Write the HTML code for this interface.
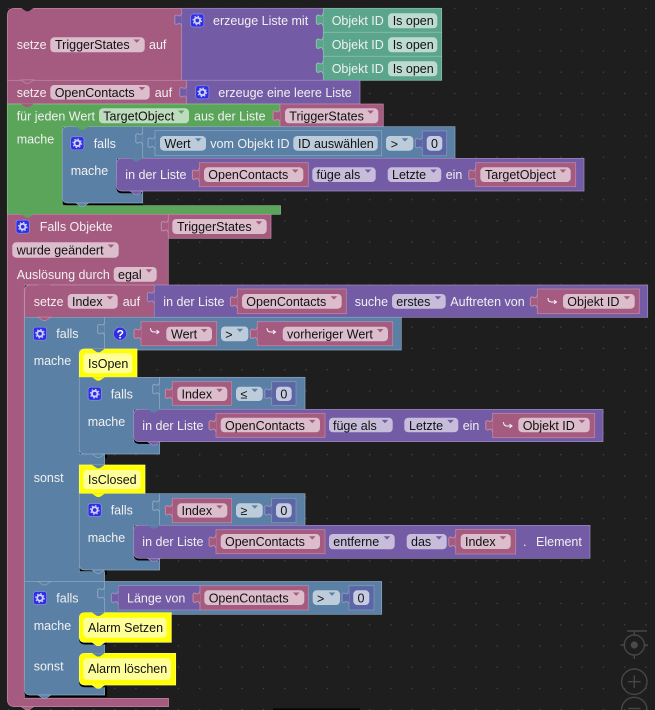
<!DOCTYPE html>
<html><head><meta charset="utf-8"><style>
html,body{margin:0;padding:0;background:#1e1e1e}
svg{display:block;filter:blur(.3px)}
text{font-family:"Liberation Sans",sans-serif;font-size:12.5px;fill:#f0f0f0;stroke:none}
text.d{fill:#111}
.p{fill:#a55b80;stroke:#c08ca6;stroke-width:.7}
.v{fill:#745ba5;stroke:#9f8cc0;stroke-width:.7}
.t{fill:#5ba58c;stroke:#8cc0ae;stroke-width:.7}
.g{fill:#5ba55b;stroke:#8cc08c;stroke-width:.7}
.b{fill:#5b80a5;stroke:#8ca6c0;stroke-width:.7}
.m{fill:#5b67a5;stroke:#8c95c0;stroke-width:.7}
.y{fill:#ff0;stroke:#ffff66;stroke-width:.7}
.s{fill:#000}
.fp{fill:#dbbdcc}.fv{fill:#c7bddb}.ft{fill:#bddbd1}.fg{fill:#bddbbd}.fb{fill:#bdccdb}.fm{fill:#c6cbe2}.fy{fill:#ffff99}
.ap{fill:#a55b80}.av{fill:#745ba5}.ab{fill:#5b80a5}.ag{fill:#5ba55b}
.ctl{fill:none;stroke:#464646;stroke-width:1.4}
</style></head><body>
<svg xmlns="http://www.w3.org/2000/svg" width="655" height="710" viewBox="0 0 655 710">
<defs>
<pattern id="dots" x="8.45" y="8.45" width="21.25" height="21.25" patternUnits="userSpaceOnUse"><rect x="-.6" y="-.6" width="1.2" height="1.2" fill="#4a4a4a"/><rect x="20.65" y="-.6" width="1.2" height="1.2" fill="#4a4a4a"/><rect x="-.6" y="20.65" width="1.2" height="1.2" fill="#4a4a4a"/><rect x="20.65" y="20.65" width="1.2" height="1.2" fill="#4a4a4a"/></pattern>
<path id="tab" stroke-width="1" d="M0 0C-.8 3-2 3.4-4 2.4C-6.6 1.2-7.4 3-6.8 6.7C-7.4 10.4-6.6 12.2-4 11C-2 10-.8 10.4 0 13.4"/>
<path id="n" d="M0 0l5 3.4h2.8l5-3.4z"/>
<polygon id="a" points="0,0 6.5,0 3.25,3.4"/>
<g id="gear"><rect x="-6.6" y="-6.5" width="13.2" height="13" rx="2.5" fill="#2f2fe0" stroke="#8c8cf0" stroke-width=".7"/><circle r="2.8" fill="none" stroke="#cfd3ff" stroke-width="1.9"/><circle r="4.3" fill="none" stroke="#cfd3ff" stroke-width="1.1" stroke-dasharray="1.5 1.9"/></g>
<path id="hook" d="M0 0q0 4 3.5 4H8M6 2.2L8.5 4L6 5.8" fill="none" stroke="#f4f4f4" stroke-width="1"/>
</defs>
<rect width="655" height="710" fill="#1e1e1e"/>
<rect width="655" height="710" fill="url(#dots)"/>

<!-- controls -->
<g class="ctl">
<path d="M627 631h20"/>
<circle cx="634.3" cy="645" r="10"/><path d="M634.3 631v4M634.3 655v4M620.5 645h4M644 645h4"/>
<circle cx="634.3" cy="681.7" r="12.7"/><path d="M628 681.7h12.6M634.3 675.4v12.6"/>
<circle cx="634.3" cy="710" r="12.7"/><path d="M628 708.5h12.6"/>
</g>
<circle cx="634.3" cy="645" r="3.6" fill="#4a4a4a"/>
<rect x="273" y="708.4" width="87" height="1.6" fill="#050505"/>

<!-- setze TriggerStates -->
<path class="p" d="M15 8.3H181.7V80.3H7.3V16q0-7.7 7.7-7.7z"/>
<use href="#n" x="21" y="7.8" fill="#1e1e1e"/>
<rect class="v" x="181.7" y="8.3" width="141.6" height="72"/>
<use href="#tab" x="181.7" y="13" class="v"/>
<rect class="t" x="323.3" y="8.3" width="118.4" height="24"/>
<rect class="t" x="323.3" y="32.3" width="118.4" height="24"/>
<rect class="t" x="323.3" y="56.3" width="118.4" height="24"/>
<use href="#tab" x="323.3" y="13" class="t"/><use href="#tab" x="323.3" y="37" class="t"/><use href="#tab" x="323.3" y="61" class="t"/>
<text x="16.7" y="49">setze</text>
<rect class="fp" x="50.3" y="37.3" width="94.4" height="15" rx="4"/><text class="d" x="55" y="49">TriggerStates</text><use href="#a" x="133.5" y="39.5" class="ap"/>
<text x="149" y="49">auf</text>
<use href="#gear" x="197.3" y="20.5"/>
<text x="213" y="25">erzeuge Liste mit</text>
<text x="331.7" y="25">Objekt ID</text><rect class="ft" x="388" y="13.3" width="49.3" height="15" rx="4"/><text class="d" x="392.7" y="25">Is open</text>
<text x="331.7" y="49">Objekt ID</text><rect class="ft" x="388" y="37.3" width="49.3" height="15" rx="4"/><text class="d" x="392.7" y="49">Is open</text>
<text x="331.7" y="73">Objekt ID</text><rect class="ft" x="388" y="61.3" width="49.3" height="15" rx="4"/><text class="d" x="392.7" y="73">Is open</text>

<!-- setze OpenContacts -->
<rect class="p" x="7.3" y="80.3" width="179.4" height="23.7"/>
<use href="#n" x="21" y="79.9" class="p"/>
<rect class="v" x="186.7" y="80.3" width="173.3" height="23.7"/>
<use href="#tab" x="186.7" y="85.5" class="v"/>
<text x="16.7" y="96.8">setze</text>
<rect class="fp" x="50.3" y="85" width="99.4" height="14.6" rx="4"/><text class="d" x="54.7" y="96.8">OpenContacts</text><use href="#a" x="138.7" y="87" class="ap"/>
<text x="154.7" y="96.8">auf</text>
<use href="#gear" x="202.3" y="92.3"/>
<text x="218.3" y="96.8">erzeuge eine leere Liste</text>

<!-- für jeden -->
<path class="g" d="M7.3 104H280V127H62.3V205.7H280.5V214.3H7.3z"/>
<use href="#n" x="21" y="103.8" class="p" style="stroke:none"/>
<rect class="p" x="280" y="104" width="103.3" height="23.3"/>
<use href="#tab" x="280" y="109" class="p"/>
<text x="16.7" y="120.3">für jeden Wert</text>
<rect class="fg" x="99" y="108.3" width="90" height="15" rx="4"/><text class="d" x="103.3" y="120.3">TargetObject</text><use href="#a" x="178" y="110.5" class="ag"/>
<text x="194" y="120.3">aus der Liste</text>
<rect class="fp" x="285" y="108.3" width="93.3" height="15" rx="4"/><text class="d" x="289.3" y="120.3">TriggerStates</text><use href="#a" x="367.3" y="110.5" class="ap"/>
<text x="16.7" y="143.4">mache</text>

<!-- falls 1 -->
<path class="s" d="M68 205.2q-5.7 0-5.7-5.7V195H142.7V205.2z"/>
<path class="b" d="M68 126.7H142.7V158.3H116.5V191H142.7V203H68q-5.7 0-5.7-5.7V132.4q0-5.7 5.7-5.7z"/>
<use href="#n" x="75.8" y="126.5" class="g" style="stroke:none"/>
<use href="#n" x="75.8" y="203" class="b"/>
<rect class="b" x="142.7" y="126.7" width="312.3" height="31.6"/>
<use href="#tab" x="142.7" y="131.7" class="b"/>
<rect class="b" x="155" y="130.7" width="226.7" height="25"/>
<use href="#tab" x="155" y="136" class="b"/>
<use href="#gear" x="77.3" y="143.3"/>
<text x="93.7" y="147.8">falls</text>
<text x="70.7" y="175.2">mache</text>
<rect class="fb" x="160" y="136" width="46" height="14.7" rx="4"/><text class="d" x="164.5" y="147.8">Wert</text><use href="#a" x="195" y="138.2" class="ab"/>
<text x="210.3" y="147.8">vom Objekt ID</text>
<rect class="fb" x="293.3" y="136" width="84.4" height="14.7" rx="4"/><text class="d" x="298" y="147.8">ID auswählen</text>
<rect class="fb" x="386" y="136" width="27.3" height="14.7" rx="4"/><text class="d" x="390.7" y="148.5">&gt;</text><use href="#a" x="401.7" y="138.2" class="ab"/>
<rect class="m" x="422.3" y="131" width="24.4" height="24.7"/><use href="#tab" x="422.3" y="136.5" class="m"/>
<rect class="fm" x="426.7" y="136" width="15.6" height="14.7" rx="4"/><text class="d" x="431" y="147.8">0</text>

<!-- in der Liste 1 -->
<path class="s" d="M122 193.2q-5.7 0-5.7-5.7V180H142V193.2z"/>
<path class="v" d="M122.2 158.3H584V191H122.2q-5.7 0-5.7-5.7V164q0-5.7 5.7-5.7z"/>
<use href="#n" x="130" y="158.1" class="b" style="stroke:none"/>
<use href="#n" x="130" y="191" class="v"/>
<text x="125.3" y="179.2">in der Liste</text>
<rect class="p" x="199.3" y="162.7" width="109" height="24"/><use href="#tab" x="199.3" y="168" class="p"/>
<rect class="fp" x="204" y="167.3" width="99.3" height="14.7" rx="4"/><text class="d" x="208.3" y="179.2">OpenContacts</text><use href="#a" x="292" y="169.5" class="ap"/>
<rect class="fv" x="312.3" y="167.3" width="63.4" height="14.7" rx="4"/><text class="d" x="316.5" y="179.2">füge als</text><use href="#a" x="364.7" y="169.5" class="av"/>
<rect class="fv" x="387.7" y="167.3" width="53.6" height="14.7" rx="4"/><text class="d" x="392" y="179.2">Letzte</text><use href="#a" x="430.3" y="169.5" class="av"/>
<text x="445.7" y="179.2">ein</text>
<rect class="p" x="475.7" y="162.7" width="100" height="24"/><use href="#tab" x="475.7" y="168" class="p"/>
<rect class="fp" x="480.3" y="167.3" width="90.4" height="14.7" rx="4"/><text class="d" x="485" y="179.2">TargetObject</text><use href="#a" x="559.7" y="169.5" class="ap"/>

<!-- Falls Objekte -->
<path class="p" d="M7.3 214.3H168.3V285H24.3V698.3H168.5V706.7H15q-7.7 0-7.7-7.7z"/>
<use href="#n" x="21" y="214.1" class="g" style="stroke:none"/>
<use href="#n" x="21" y="706.5" class="p"/>
<rect class="p" x="168.3" y="214.3" width="102.7" height="24"/><use href="#tab" x="168.3" y="219.5" class="p"/>
<use href="#gear" x="22.7" y="226.7"/>
<text x="39.7" y="231">Falls Objekte</text>
<rect class="fp" x="172.3" y="219" width="94.4" height="15" rx="4"/><text class="d" x="177" y="231">TriggerStates</text><use href="#a" x="255.7" y="221.2" class="ap"/>
<rect class="fp" x="12.3" y="242.3" width="106.4" height="15.4" rx="4"/><text class="d" x="16.7" y="254.3">wurde geändert</text><use href="#a" x="107.7" y="244.5" class="ap"/>
<text x="16.7" y="278.8">Auslösung durch</text>
<rect class="fp" x="113.7" y="267" width="43" height="14.7" rx="4"/><text class="d" x="118" y="278.8">egal</text><use href="#a" x="145.7" y="269.2" class="ap"/>

<!-- setze Index -->
<path class="p" d="M30.4 285H154.3V317.3H24.7V291q0-6 5.7-6z"/>
<use href="#n" x="38" y="284.8" class="p" style="stroke:none"/>
<rect class="v" x="154.3" y="285" width="493.4" height="32.3"/><use href="#tab" x="154.3" y="290.3" class="v"/>
<text x="33.7" y="305.8">setze</text>
<rect class="fp" x="67.7" y="294" width="50" height="14.7" rx="4"/><text class="d" x="72" y="305.8">Index</text><use href="#a" x="106.7" y="296.2" class="ap"/>
<text x="122.7" y="305.8">auf</text>
<text x="163.3" y="305.8">in der Liste</text>
<rect class="p" x="237.3" y="289" width="109" height="24.7"/><use href="#tab" x="237.3" y="294.8" class="p"/>
<rect class="fp" x="242" y="294" width="99.7" height="14.7" rx="4"/><text class="d" x="246.3" y="305.8">OpenContacts</text><use href="#a" x="330.7" y="296.2" class="ap"/>
<text x="354.7" y="305.8">suche</text>
<rect class="fv" x="392" y="294" width="53.7" height="14.7" rx="4"/><text class="d" x="396.3" y="305.8">erstes</text><use href="#a" x="434.7" y="296.2" class="av"/>
<text x="450.3" y="305.8">Auftreten von</text>
<rect class="p" x="537.3" y="289" width="102" height="24.7"/><use href="#tab" x="537.3" y="294.8" class="p"/>
<use href="#hook" x="548" y="298"/>
<rect class="fp" x="563" y="294" width="71.7" height="14.7" rx="4"/><text class="d" x="567.3" y="305.8">Objekt ID</text><use href="#a" x="623.7" y="296.2" class="ap"/>

<!-- falls 2 -->
<path class="s" d="M79.3 454H107V458H79.3zM79.3 570H107V574.5H79.3z"/>
<path class="b" d="M24.5 317.3H104.6V350H79.3V454H104.6V465H79.3V571.7H104.6V581.7H24.5z"/>
<use href="#n" x="38" y="317.1" class="p"/>
<use href="#n" x="38" y="581.5" class="b"/>
<rect class="b" x="104.6" y="317.3" width="296.7" height="32.7"/><use href="#tab" x="104.6" y="322.3" class="b"/>
<use href="#gear" x="40" y="333.7"/>
<text x="56.3" y="338.2">falls</text>
<circle cx="120" cy="333.7" r="6.5" fill="#2f2fe0" stroke="#8c8cf0" stroke-width=".6"/><text x="116.6" y="338.4" style="font-weight:bold;font-size:12px;fill:#fff">?</text>
<rect class="p" x="141" y="321.7" width="75.7" height="24"/><use href="#tab" x="141" y="327" class="p"/>
<use href="#hook" x="150.5" y="328"/>
<rect class="fp" x="166.3" y="326.7" width="45.7" height="14.5" rx="4"/><text class="d" x="171" y="338.3">Wert</text><use href="#a" x="201" y="329" class="ap"/>
<rect class="fb" x="221" y="326.5" width="27.3" height="14.7" rx="4"/><text class="d" x="225.3" y="339">&gt;</text><use href="#a" x="236.7" y="328.7" class="ab"/>
<rect class="p" x="257.3" y="321.7" width="135.4" height="24"/><use href="#tab" x="257.3" y="327" class="p"/>
<use href="#hook" x="267" y="328"/>
<rect class="fp" x="282.7" y="326.7" width="105.3" height="14.5" rx="4"/><text class="d" x="287" y="338.3">vorheriger Wert</text><use href="#a" x="377" y="329" class="ap"/>
<text x="33.7" y="365.2">mache</text>

<!-- IsOpen -->
<path class="y" d="M85 349H137V377.3H79.3V355q0-6 5.7-6z"/>
<use href="#n" x="92" y="348.8" class="b" style="stroke:none"/>
<use href="#n" x="92" y="377.2" class="y"/>
<rect class="fy" x="83.3" y="353.3" width="49" height="20" rx="4"/><text class="d" x="88" y="367.8">IsOpen</text>

<!-- inner falls 1 -->
<path class="b" d="M79.3 377.3H159.6V409.3H133.7V441.7H159.6V454H85.3q-6 0-6-6z"/>
<use href="#n" x="92" y="377.2" class="y" style="stroke:none"/>
<use href="#n" x="92" y="454" class="b"/>
<rect class="b" x="159.6" y="377.3" width="145.4" height="32"/><use href="#tab" x="159.6" y="382.3" class="b"/>
<use href="#gear" x="94.7" y="393.7"/>
<text x="110.7" y="398.4">falls</text>
<rect class="p" x="172.3" y="381.7" width="59.4" height="23.6"/><use href="#tab" x="172.3" y="387" class="p"/>
<rect class="fp" x="177.3" y="386.7" width="50" height="14.3" rx="4"/><text class="d" x="181.5" y="398.4">Index</text><use href="#a" x="216.3" y="388.8" class="ap"/>
<rect class="fb" x="236" y="386.7" width="26.7" height="14.3" rx="4"/><text class="d" x="240.5" y="398.6">≤</text><use href="#a" x="251.5" y="388.8" class="ab"/>
<rect class="m" x="271.7" y="381.7" width="24.3" height="23.6"/><use href="#tab" x="271.7" y="387" class="m"/>
<rect class="fm" x="276" y="386.7" width="15.7" height="14.3" rx="4"/><text class="d" x="280.4" y="398.4">0</text>
<text x="87.7" y="425.8">mache</text>
<path class="s" d="M139.5 443.9q-5.8 0-5.8-5.8V432H159V443.9z"/>
<path class="v" d="M139.5 409.3H603V441.7H139.5q-5.8 0-5.8-5.8V415.1q0-5.8 5.8-5.8z"/>
<use href="#n" x="147.5" y="409.1" class="b" style="stroke:none"/>
<use href="#n" x="147.5" y="441.7" class="v"/>
<text x="142.3" y="429.8">in der Liste</text>
<rect class="p" x="216" y="413.3" width="109" height="24"/><use href="#tab" x="216" y="418.6" class="p"/>
<rect class="fp" x="220.7" y="417.7" width="99.3" height="14.6" rx="4"/><text class="d" x="225" y="429.8">OpenContacts</text><use href="#a" x="309" y="419.9" class="ap"/>
<rect class="fv" x="329" y="417.7" width="63.7" height="14.6" rx="4"/><text class="d" x="333" y="429.8">füge als</text><use href="#a" x="381.7" y="419.9" class="av"/>
<rect class="fv" x="404.3" y="417.7" width="54" height="14.6" rx="4"/><text class="d" x="409" y="429.8">Letzte</text><use href="#a" x="447.3" y="419.9" class="av"/>
<text x="462.7" y="429.8">ein</text>
<rect class="p" x="492.7" y="413.3" width="102" height="24.4"/><use href="#tab" x="492.7" y="418.6" class="p"/>
<use href="#hook" x="503.5" y="422"/>
<rect class="fp" x="518.3" y="417.7" width="71.4" height="14.6" rx="4"/><text class="d" x="522.7" y="429.8">Objekt ID</text><use href="#a" x="578.7" y="419.9" class="ap"/>

<text x="33.7" y="481.8">sonst</text>

<!-- IsClosed -->
<rect class="y" x="79.3" y="465" width="65.7" height="28.7"/>
<use href="#n" x="92" y="464.8" class="b" style="stroke:none"/>
<use href="#n" x="92" y="493.6" class="y"/>
<rect class="fy" x="83.3" y="470" width="57.4" height="19.3" rx="4"/><text class="d" x="88" y="484.2">IsClosed</text>

<!-- inner falls 2 -->
<path class="b" d="M79.3 493.7H159.6V525.3H133.7V558.3H159.6V570H85.3q-6 0-6-6z"/>
<use href="#n" x="92" y="493.6" class="y" style="stroke:none"/>
<use href="#n" x="92" y="570" class="b"/>
<rect class="b" x="159.6" y="493.7" width="145.4" height="31.6"/><use href="#tab" x="159.6" y="499" class="b"/>
<use href="#gear" x="94.7" y="510"/>
<text x="110.7" y="514.6">falls</text>
<rect class="p" x="172.3" y="498.3" width="59.4" height="24.4"/><use href="#tab" x="172.3" y="503.6" class="p"/>
<rect class="fp" x="177.3" y="503.3" width="50" height="14.3" rx="4"/><text class="d" x="181.5" y="514.8">Index</text><use href="#a" x="216.3" y="505.4" class="ap"/>
<rect class="fb" x="236" y="503.3" width="26.7" height="14.3" rx="4"/><text class="d" x="240.5" y="515">≥</text><use href="#a" x="251.5" y="505.4" class="ab"/>
<rect class="m" x="271.7" y="498.3" width="24.3" height="24.4"/><use href="#tab" x="271.7" y="503.6" class="m"/>
<rect class="fm" x="276" y="503.3" width="15.7" height="14.3" rx="4"/><text class="d" x="280.4" y="514.8">0</text>
<text x="87.7" y="542.2">mache</text>
<path class="s" d="M139.5 560.5q-5.8 0-5.8-5.8V549H159V560.5z"/>
<path class="v" d="M139.5 525.3H590V558.3H139.5q-5.8 0-5.8-5.8V531.1q0-5.8 5.8-5.8z"/>
<use href="#n" x="147.5" y="525.1" class="b" style="stroke:none"/>
<use href="#n" x="147.5" y="558.3" class="v"/>
<text x="142.3" y="546">in der Liste</text>
<rect class="p" x="216" y="529.7" width="109" height="24"/><use href="#tab" x="216" y="535" class="p"/>
<rect class="fp" x="220.7" y="534" width="99.3" height="15" rx="4"/><text class="d" x="225" y="546">OpenContacts</text><use href="#a" x="309" y="536.2" class="ap"/>
<rect class="fv" x="329" y="534" width="65.7" height="15.3" rx="4"/><text class="d" x="333.3" y="546">entferne</text><use href="#a" x="383.7" y="536.2" class="av"/>
<rect class="fv" x="406.7" y="534" width="40" height="15.3" rx="4"/><text class="d" x="411" y="546">das</text><use href="#a" x="435.7" y="536.2" class="av"/>
<rect class="p" x="455.7" y="529.3" width="60" height="24.7"/><use href="#tab" x="455.7" y="535" class="p"/>
<rect class="fp" x="460.7" y="534" width="50" height="15" rx="4"/><text class="d" x="465" y="546">Index</text><use href="#a" x="499.7" y="536.2" class="ap"/>
<text x="523" y="546">.</text>
<text x="536" y="546">Element</text>

<!-- falls 4 -->
<path class="s" d="M30 697q-5.7 0-5.7-5.7V680H107V697z"/>
<path class="b" d="M24.5 581.7H104.6V695H30.2q-5.7 0-5.7-5.7z"/>
<use href="#n" x="38" y="581.5" class="b"/>
<use href="#n" x="38" y="695" class="b"/>
<rect class="b" x="104.6" y="581.5" width="277.1" height="32.8"/><use href="#tab" x="104.6" y="586.7" class="b"/>
<use href="#gear" x="40" y="598"/>
<text x="56.3" y="602.5">falls</text>
<rect class="v" x="118.3" y="585.7" width="81.7" height="24.3"/><use href="#tab" x="118.3" y="591" class="v"/>
<text x="127" y="602.5">Länge von</text>
<rect class="p" x="200" y="585.7" width="108.3" height="24.3"/><use href="#tab" x="200" y="591" class="p"/>
<rect class="fp" x="204.3" y="590.3" width="100" height="14.7" rx="4"/><text class="d" x="208.7" y="602.3">OpenContacts</text><use href="#a" x="293" y="592.5" class="ap"/>
<rect class="fb" x="312.7" y="590.3" width="27.3" height="14.7" rx="4"/><text class="d" x="317" y="603">&gt;</text><use href="#a" x="328.7" y="592.5" class="ab"/>
<rect class="m" x="349" y="585.7" width="25" height="24.3"/><use href="#tab" x="349" y="591" class="m"/>
<rect class="fm" x="353.3" y="590.3" width="16" height="14.7" rx="4"/><text class="d" x="357.5" y="602.3">0</text>
<text x="33.7" y="630">mache</text>
<path class="s" d="M85 644.5q-6 0-6-6V630H107V644.5zM85 687.2q-6 0-6-6V672H107V687.2z"/>
<path class="y" d="M85 612.7H171.3V642.3H85q-5.7 0-5.7-5.7V618.4q0-5.7 5.7-5.7z"/>
<use href="#n" x="92" y="612.5" class="b" style="stroke:none"/>
<use href="#n" x="92" y="642.2" class="y"/>
<rect class="fy" x="83.3" y="617.7" width="83.4" height="20" rx="4"/><text class="d" x="88" y="632">Alarm Setzen</text>
<text x="33.7" y="670.5">sonst</text>
<path class="y" d="M85 653.3H175.7V685H85q-5.7 0-5.7-5.7V659q0-5.7 5.7-5.7z"/>
<use href="#n" x="92" y="653.1" class="b" style="stroke:none"/>
<use href="#n" x="92" y="684.9" class="y"/>
<rect class="fy" x="83.3" y="658.3" width="87.7" height="21.7" rx="4"/><text class="d" x="88" y="673">Alarm löschen</text>
</svg>
</body></html>
